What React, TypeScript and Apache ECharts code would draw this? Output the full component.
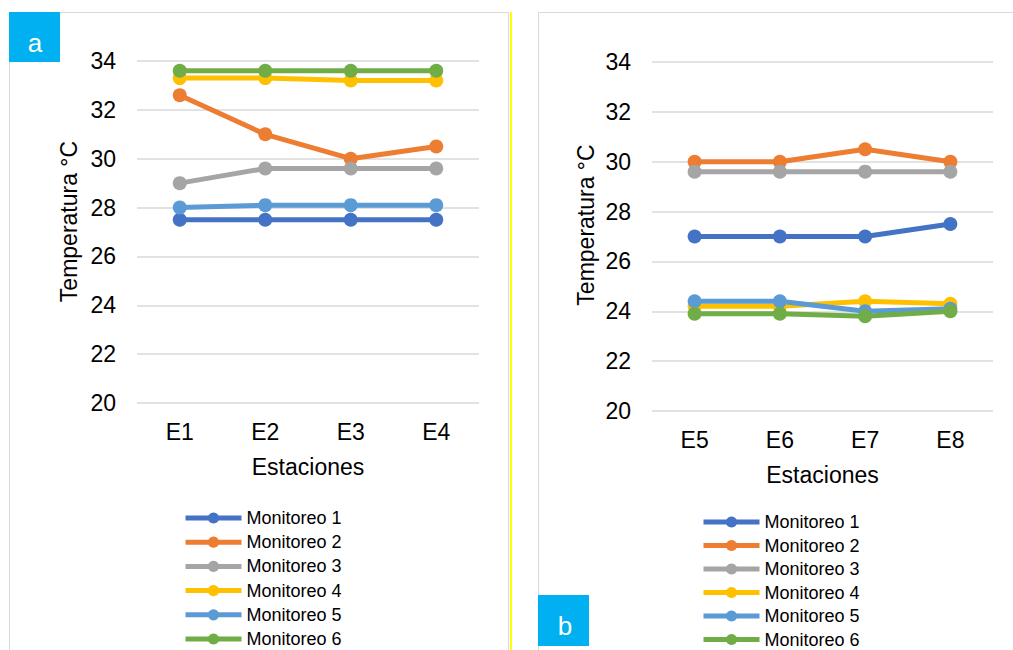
import React, { useEffect, useRef } from "react";
import * as echarts from "echarts";

const seriesNames = ["Monitoreo 1", "Monitoreo 2", "Monitoreo 3", "Monitoreo 4", "Monitoreo 5", "Monitoreo 6"];
const seriesColors = ["#4472C4", "#ED7D31", "#A5A5A5", "#FFC000", "#5B9BD5", "#70AD47"];

const stationsA = ["E1", "E2", "E3", "E4"];
const stationsB = ["E5", "E6", "E7", "E8"];

// Panel a
const a_m1 = [27.5, 27.5, 27.5, 27.5];
const a_m2 = [32.6, 31.0, 30.0, 30.5];
const a_m3 = [29.0, 29.6, 29.6, 29.6];
const a_m4 = [33.3, 33.3, 33.2, 33.2];
const a_m5 = [28.0, 28.1, 28.1, 28.1];
const a_m6 = [33.6, 33.6, 33.6, 33.6];

// Panel b
const b_m1 = [27.0, 27.0, 27.0, 27.5];
const b_m2 = [30.0, 30.0, 30.5, 30.0];
const b_m3 = [29.6, 29.6, 29.6, 29.6];
const b_m4 = [24.2, 24.2, 24.4, 24.3];
const b_m5 = [24.4, 24.4, 24.0, 24.1];
const b_m6 = [23.9, 23.9, 23.8, 24.0];

const yMin = 20;
const yMax = 34;
const yStep = 2;

const xName = "Estaciones";
const yName = "Temperatura °C";
const panelLabels = ["a", "b"];

const FONT = "'Liberation Sans', Arial, sans-serif";

export default function App() {
  const ref = useRef<HTMLDivElement>(null);

  useEffect(() => {
    if (!ref.current) return;
    const chart = echarts.init(ref.current, null, { renderer: "svg" });
    const dataA = [a_m1, a_m2, a_m3, a_m4, a_m5, a_m6];
    const dataB = [b_m1, b_m2, b_m3, b_m4, b_m5, b_m6];

    const mkSeries = (data: number[][], idx: number) =>
      data.map((d, i) => ({
        name: seriesNames[i],
        type: "line",
        xAxisIndex: idx,
        yAxisIndex: idx,
        data: d,
        symbol: "circle",
        symbolSize: 14,
        color: seriesColors[i],
        lineStyle: { width: 5, color: seriesColors[i] },
        itemStyle: { color: seriesColors[i] },
      }));

    const mkX = (cats: string[], gridIndex: number) => ({
      type: "category",
      gridIndex,
      data: cats,
      boundaryGap: true,
      axisLine: { show: false },
      axisTick: { show: false },
      axisLabel: { fontSize: 23, color: "#000", fontFamily: FONT, margin: 17 },
      name: xName,
      nameLocation: "middle",
      nameGap: 52,
      nameTextStyle: { fontSize: 23, color: "#000", fontFamily: FONT },
    });

    const mkY = (gridIndex: number) => ({
      type: "value",
      gridIndex,
      min: yMin,
      max: yMax,
      interval: yStep,
      axisLine: { show: false },
      axisTick: { show: false },
      axisLabel: { fontSize: 23, color: "#000", fontFamily: FONT, margin: 21 },
      splitLine: { lineStyle: { color: "#D9D9D9", width: 1.5 } },
    });

    const mkLegend = (left: number, top: number, gap: number) => ({
      orient: "vertical",
      left,
      top,
      height: 200,
      padding: 0,
      itemWidth: 56,
      itemHeight: 14,
      itemGap: gap,
      data: seriesNames,
      lineStyle: { width: 5 },
      textStyle: { fontSize: 18, color: "#000", fontFamily: FONT, lineHeight: 18 },
    });

    chart.setOption({
      animation: false,
      backgroundColor: "#fff",
      textStyle: { fontFamily: FONT },
      grid: [
        { left: 137, top: 61, width: 342, height: 342 },
        { left: 652, top: 62, width: 341, height: 349 },
      ],
      xAxis: [mkX(stationsA, 0), mkX(stationsB, 1)],
      yAxis: [mkY(0), mkY(1)],
      legend: [mkLegend(183, 509, 6.2), mkLegend(701, 513, 5.5)],
      series: [...mkSeries(dataA, 0), ...mkSeries(dataB, 1)],
      graphic: [
        { type: "rect", shape: { x: 9.5, y: 12.5, width: 499, height: 700 }, style: { fill: "none", stroke: "#D9D9D9", lineWidth: 1 }, silent: true },
        { type: "line", shape: { x1: 511, y1: 12, x2: 511, y2: 650 }, style: { stroke: "#FFFF00", lineWidth: 2 }, silent: true },
        { type: "rect", shape: { x: 538.5, y: 12.5, width: 600, height: 700 }, style: { fill: "none", stroke: "#D9D9D9", lineWidth: 1 }, silent: true },
        { type: "rect", shape: { x: 9, y: 12, width: 51, height: 50 }, style: { fill: "#00B0F0" }, silent: true },
        { type: "text", x: 35, y: 43, style: { text: panelLabels[0], fill: "#fff", fontSize: 26, fontFamily: FONT, align: "center", verticalAlign: "middle" }, silent: true },
        { type: "rect", shape: { x: 538, y: 595, width: 51, height: 51 }, style: { fill: "#00B0F0" }, silent: true },
        { type: "text", x: 565, y: 626, style: { text: panelLabels[1], fill: "#fff", fontSize: 26, fontFamily: FONT, align: "center", verticalAlign: "middle" }, silent: true },
        { type: "text", x: 69, y: 221.5, rotation: Math.PI / 2, style: { text: yName, fill: "#000", fontSize: 23, fontFamily: FONT, align: "center", verticalAlign: "middle" }, silent: true },
        { type: "text", x: 586, y: 225, rotation: Math.PI / 2, style: { text: yName, fill: "#000", fontSize: 23, fontFamily: FONT, align: "center", verticalAlign: "middle" }, silent: true },
      ],
    });
    return () => chart.dispose();
  }, []);

  return <div ref={ref} style={{ position: "fixed", left: 0, top: 0, width: 1013, height: 650 }} />;
}
